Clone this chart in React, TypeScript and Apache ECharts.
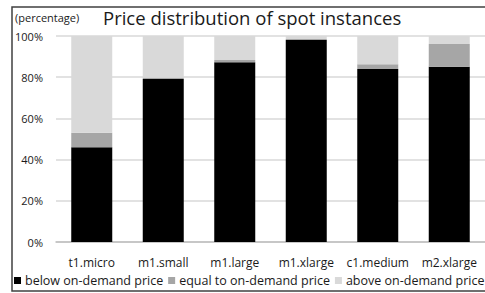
import React, { useEffect, useRef } from "react";
import * as echarts from "echarts";

const categories = ["t1.micro", "m1.small", "m1.large", "m1.xlarge", "c1.medium", "m2.xlarge"];
const belowValues = [46, 79.1, 87.2, 98.1, 84.0, 85.1];
const equalValues = [7, 0.6, 1.1, 0.4, 2.3, 11.0];
const aboveValues = [47, 20.3, 11.7, 1.5, 13.7, 3.9];
const seriesNames = ["below on-demand price", "equal to on-demand price", "above on-demand price"];
const yTicks = [0, 20, 40, 60, 80, 100];

export default function App() {
  const ref = useRef<HTMLDivElement>(null);
  useEffect(() => {
    if (!ref.current) return;
    const chart = echarts.init(ref.current, null, { renderer: "svg" });
    const font = "'Open Sans', sans-serif";
    const colors = ["#000000", "#a6a6a6", "#d9d9d9"];
    const values = [belowValues, equalValues, aboveValues];
    chart.setOption({
      animation: false,
      backgroundColor: "#ffffff",
      textStyle: { fontFamily: font },
      title: {
        text: "Price distribution of spot instances",
        left: 103,
        top: 8,
        padding: 0,
        textStyle: { fontFamily: font, fontSize: 18.5, fontWeight: "normal", color: "#1a1a1a" },
      },
      graphic: [
        {
          type: "rect",
          shape: { x: 12, y: 7, width: 490, height: 284 },
          style: { fill: "none", stroke: "#404040", lineWidth: 1.5 },
          silent: true,
          z: 100,
        },
        {
          type: "text",
          x: 15,
          y: 12,
          style: { text: "(percentage)", fontFamily: font, fontSize: 11, fill: "#1a1a1a" },
        },
      ],
      legend: {
        left: 14,
        top: 274,
        width: 520,
        padding: 0,
        itemWidth: 7,
        itemHeight: 7,
        itemGap: 5,
        icon: "rect",
        textStyle: { fontFamily: font, fontSize: 12.5, color: "#1a1a1a", padding: [0, 0, 0, -1] },
        data: seriesNames,
      },
      grid: { left: 56, top: 36, width: 432, height: 206, containLabel: false },
      xAxis: {
        type: "category",
        data: categories,
        axisLine: { show: true, lineStyle: { color: "#bfbfbf", width: 1.5 } },
        axisTick: { show: false },
        axisLabel: { interval: 0, fontFamily: font, fontSize: 12, color: "#1a1a1a", margin: 14 },
      },
      yAxis: {
        type: "value",
        min: yTicks[0],
        max: yTicks[yTicks.length - 1],
        interval: 20,
        axisLine: { show: false },
        axisTick: { show: false },
        axisLabel: { formatter: "{value}%", fontFamily: font, fontSize: 11, color: "#1a1a1a", margin: 13 },
        splitLine: { lineStyle: { color: "#d9d9d9", width: 1.5 } },
      },
      series: seriesNames.map((name, i) => ({
        name,
        type: "bar",
        stack: "total",
        barWidth: 41,
        data: values[i],
        itemStyle: { color: colors[i] },
      })),
    });
    return () => chart.dispose();
  }, []);
  return (
    <div
      ref={ref}
      style={{ position: "fixed", left: 0, top: 0, width: 485, height: 293 }}
    />
  );
}
